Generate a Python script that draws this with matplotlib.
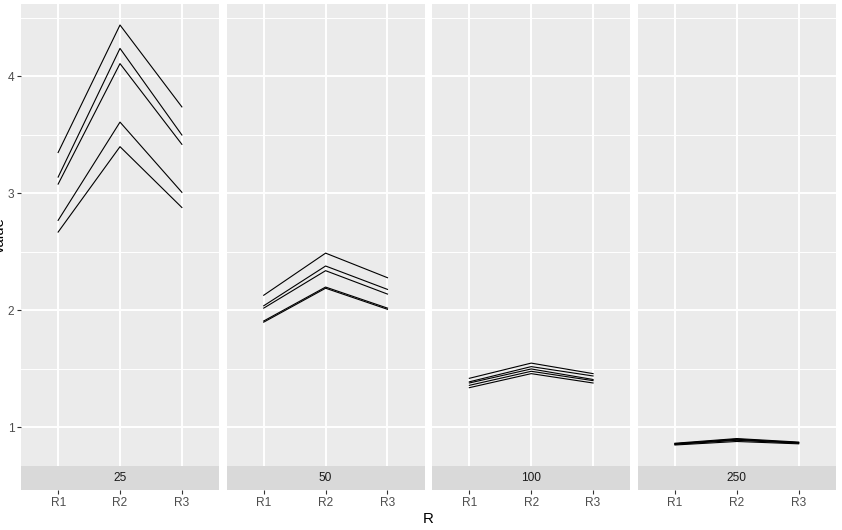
import numpy as np
import matplotlib.pyplot as plt

plt.rcParams["font.family"] = ["Liberation Sans", "DejaVu Sans"]

# facet groups and x categories
groups = ["25", "50", "100", "250"]
r_labels = ["R1", "R2", "R3"]

# each row is one line: values at R1, R2, R3
values_25 = [[3.35, 4.44, 3.74],
             [3.14, 4.24, 3.50],
             [3.08, 4.11, 3.42],
             [2.77, 3.61, 3.01],
             [2.67, 3.40, 2.88]]
values_50 = [[2.13, 2.49, 2.28],
             [2.04, 2.38, 2.18],
             [2.02, 2.34, 2.14],
             [1.91, 2.20, 2.02],
             [1.90, 2.19, 2.01]]
values_100 = [[1.42, 1.55, 1.46],
              [1.39, 1.52, 1.44],
              [1.38, 1.50, 1.41],
              [1.36, 1.48, 1.40],
              [1.34, 1.46, 1.38]]
values_250 = [[0.865, 0.905, 0.875],
              [0.86, 0.90, 0.87],
              [0.86, 0.895, 0.87],
              [0.855, 0.89, 0.865],
              [0.85, 0.88, 0.86]]
panel_values = [values_25, values_50, values_100, values_250]

W, H = 842, 530
fig = plt.figure(figsize=(W / 100, H / 100), dpi=100)


def px_axes(x0, y0, w, h):
    # axes placed by pixel box measured from the top-left corner
    return fig.add_axes([x0 / W, 1 - (y0 + h) / H, w / W, h / H])


# shared y range with ggplot-like 5% expansion
all_vals = np.concatenate([np.ravel(v) for v in panel_values])
lo, hi = all_vals.min(), all_vals.max()
pad = (hi - lo) * 0.05
ymin, ymax = lo - pad, hi + pad

left, top, pw, ph, gap, strip_h = 21, 4, 198, 462, 7.6, 24
xs = np.arange(1, len(r_labels) + 1)
tick_col, label_col = "#333333", "#4D4D4D"

for i, (g, vals) in enumerate(zip(groups, panel_values)):
    x0 = left + i * (pw + gap)
    ax = px_axes(x0, top, pw, ph)
    ax.set_facecolor("#EBEBEB")
    for row in vals:
        ax.plot(xs, row, color="black", lw=0.8)
    ax.set_xlim(0.4, len(r_labels) + 0.6)
    ax.set_ylim(ymin, ymax)
    ax.set_xticks(xs)
    ax.set_yticks([1, 2, 3, 4])
    ax.set_yticks([1.5, 2.5, 3.5, 4.5], minor=True)
    ax.grid(which="major", color="white", lw=1.4)
    ax.grid(which="minor", axis="y", color="white", lw=0.7)
    ax.set_axisbelow(True)
    ax.tick_params(axis="x", length=0, labelbottom=False)
    ax.tick_params(axis="y", which="minor", length=0)
    if i == 0:
        ax.tick_params(axis="y", which="major", length=2.7, width=0.8, color=tick_col,
                       labelcolor=label_col, labelsize=8.6, pad=2)
    else:
        ax.tick_params(axis="y", which="major", length=0, labelleft=False)
    for s in ax.spines.values():
        s.set_visible(False)

    # strip below the panel
    sax = px_axes(x0, top + ph, pw, strip_h)
    sax.set_facecolor("#D9D9D9")
    sax.set_xlim(0.4, len(r_labels) + 0.6)
    sax.set_ylim(0, 1)
    sax.text(0.5, 0.5, g, transform=sax.transAxes, ha="center", va="center",
             fontsize=8.6, color="#1A1A1A")
    sax.set_xticks(xs, r_labels)
    sax.set_yticks([])
    sax.tick_params(axis="x", length=2.7, width=0.8, color=tick_col,
                    labelcolor=label_col, labelsize=8.6, pad=2)
    for s in sax.spines.values():
        s.set_visible(False)

right = left + 4 * pw + 3 * gap
fig.text((left + right) / 2 / W, 1 - 519 / H, "R", ha="center", va="center", fontsize=10.8)
# y title sits partly off the left edge, as in the reference
fig.text(0 / W, 1 - (top + ph / 2) / H, "value", ha="center", va="center",
         rotation=90, fontsize=10.8)

fig.savefig("out.png", dpi=100)
